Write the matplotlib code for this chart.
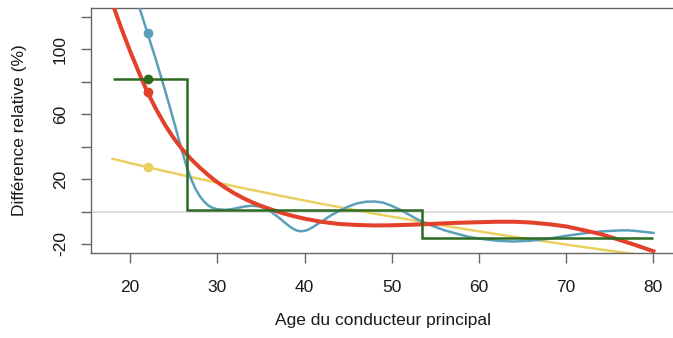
import matplotlib
matplotlib.use("Agg")
import matplotlib.pyplot as plt
import numpy as np

plt.rcParams['font.family'] = ['Liberation Sans', 'DejaVu Sans']

# ---- data ----
red_age = [18, 19, 20, 21, 22, 23, 24, 25, 26, 27, 28, 29, 30, 31, 32, 33, 34,
           35, 36, 37, 38, 39, 40, 42, 44, 46, 48, 50, 52, 54, 56, 58, 60, 62,
           64, 66, 68, 70, 72, 74, 76, 78, 80]
red_vals = [128, 113, 99, 86, 73.5, 63, 53.5, 45.3, 38.3, 32.3, 27.1, 22.3, 18.1,
            14.4, 11.1, 8.2, 5.7, 3.5, 1.6, -0.2, -1.8, -3.2, -4.4, -6.4, -7.7,
            -8.3, -8.6, -8.5, -8.2, -7.8, -7.3, -6.9, -6.6, -6.3, -6.3, -6.8,
            -7.8, -9.2, -11.5, -14, -17.3, -20.8, -24.5]

yellow_age = [18, 20, 22, 24, 26, 28, 30, 32, 34, 36, 38, 40, 42, 44, 46, 48,
              50, 52, 54, 56, 58, 60, 62, 64, 66, 68, 70, 72, 74, 76, 78, 80]
yellow_vals = [32.5, 29.9, 27.4, 24.9, 22.5, 20.1, 17.8, 15.5, 13.3, 11.1, 8.9,
               6.8, 4.7, 2.7, 0.7, -1.3, -3.2, -5.0, -6.9, -8.7, -10.5, -12.2,
               -13.9, -15.6, -17.2, -18.8, -20.4, -21.9, -23.5, -24.9, -26.4, -27.8]

blue_age = [18, 20, 21, 22, 23, 24, 25, 26, 26.5, 27, 27.5, 28, 28.5, 29, 29.5,
            30, 31, 32, 33, 34, 35, 36, 37, 38, 38.5, 39, 39.5, 40, 40.5, 41,
            42, 43, 44, 45, 46, 47, 48, 49, 50, 51, 52, 53, 54, 55, 56, 57, 58,
            59, 60, 62, 64, 66, 68, 70, 72, 74, 76, 77, 78, 80]
blue_vals = [185, 145, 127, 110, 93, 75, 56, 36.5, 27.5, 20, 14, 9.5, 6, 3.6,
             2.2, 1.4, 1.0, 1.8, 3.0, 3.6, 3.0, 0.5, -3.5, -8, -10, -11.5, -12.2,
             -12, -11, -9.5, -6, -2.5, 0.5, 3, 5, 6, 6.2, 5.5, 3.5, 1, -2, -5,
             -7.5, -9.5, -11.5, -13, -14.5, -15.8, -16.7, -18, -18.5, -18,
             -16.8, -15, -13.5, -12.3, -11.7, -11.6, -12, -13.2]

green_breaks = [18, 26.5, 53.5, 80]
green_levels = [82, 1, -16.3]

point_age = 22
point_vals = {'blue': 110, 'green': 82, 'red': 73.5, 'yellow': 27.3}

yticks = [-20, 0, 20, 40, 60, 80, 100, 120]
ytick_labels = ['-20', '', '20', '', '60', '', '100', '']
xticks = [20, 30, 40, 50, 60, 70, 80]

C_RED = '#E3412B'
C_BLUE = '#5B9FBA'
C_YELLOW = '#E9D060'
C_GREEN = '#2D6B22'

fig = plt.figure(figsize=(6.73, 3.38), dpi=100)
ax = fig.add_axes([91/673, 85/338, 584/673, 245/338])

ax.axhline(0, color='#d4d4d4', lw=1.1, zorder=1)
ax.plot(yellow_age, yellow_vals, color=C_YELLOW, lw=1.8, zorder=2)
ax.plot(blue_age, blue_vals, color=C_BLUE, lw=1.8, zorder=3)
ax.plot(red_age, red_vals, color=C_RED, lw=2.9, zorder=4)
ax.stairs(green_levels, green_breaks, color=C_GREEN, lw=1.8, baseline=None, zorder=5)

ax.plot([point_age], [point_vals['yellow']], 'o', color=C_YELLOW, ms=6, zorder=6)
ax.plot([point_age], [point_vals['blue']], 'o', color=C_BLUE, ms=6, zorder=6)
ax.plot([point_age], [point_vals['red']], 'o', color=C_RED, ms=6, zorder=6)
ax.plot([point_age], [point_vals['green']], 'o', color=C_GREEN, ms=6, zorder=6)

ax.set_xlim(15.52, 82.48)
ax.set_ylim(-25.6, 125.6)

ax.set_yticks(yticks)
ax.set_yticklabels(ytick_labels, rotation=90, va='center')
ax.set_xticks(xticks)

for s in ['left', 'bottom', 'top', 'right']:
    ax.spines[s].set_color('#666666')
    ax.spines[s].set_linewidth(1.0)

ax.tick_params(axis='both', colors='#666666', labelcolor='#1a1a1a',
               length=7.5, width=1.0, labelsize=12.5)
ax.tick_params(axis='x', pad=12)
ax.tick_params(axis='y', pad=9)

ax.set_xlabel('Age du conducteur principal', fontsize=12.5, color='#1a1a1a', labelpad=13)
ax.set_ylabel('Différence relative (%)', fontsize=12.5, color='#1a1a1a', labelpad=19)

fig.savefig('out.png', dpi=100)
